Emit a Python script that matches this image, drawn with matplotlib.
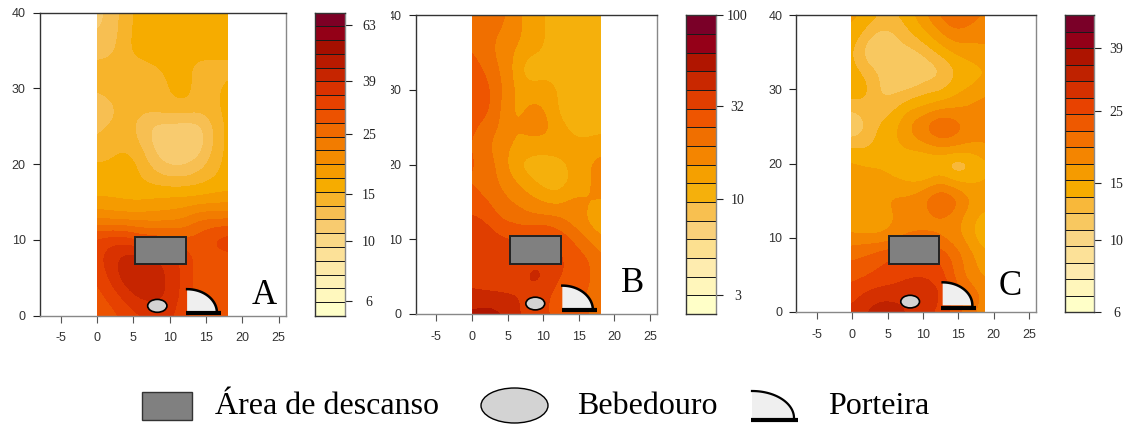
import matplotlib
matplotlib.use('Agg')
import matplotlib.pyplot as plt
import numpy as np
from matplotlib.colors import ListedColormap, BoundaryNorm
from matplotlib.patches import Rectangle, Ellipse, Polygon
from matplotlib.ticker import NullLocator
from matplotlib.transforms import Bbox

plt.rcParams['axes.unicode_minus'] = False

W, H = 1131, 425

grid_x = [0, 2, 4, 6, 8, 10, 12, 14, 16, 18]
grid_y = [40, 37.5, 35, 32.5, 30, 27.5, 25, 22.5, 20, 17.5, 15, 12.5, 10, 7.5, 5, 2.5, 0]

values_a = [
    [11.5, 12.5, 14.5, 16, 16, 16, 17, 16, 16, 16],
    [12, 12.5, 14.8, 16, 16, 16.5, 17.5, 17, 16, 16],
    [12.5, 13, 15, 16, 16, 16, 16, 16, 16, 16],
    [14.5, 14.5, 14.5, 14.5, 15, 15.5, 15.8, 14.5, 14.5, 14.5],
    [13.8, 14.5, 14.5, 14.8, 14.8, 15.2, 16.2, 14.5, 14.5, 16],
    [12.5, 13, 14.5, 14, 14.5, 15, 15, 14.5, 14.8, 16],
    [13, 13.8, 14, 13, 11.3, 11.3, 11, 11.3, 13.5, 16],
    [14, 14.5, 14.8, 13.5, 11.5, 11, 11, 11, 13.5, 16],
    [15.5, 15.5, 16.5, 15, 12.5, 11.5, 11.5, 12.5, 14.5, 16],
    [15.8, 15.8, 15.8, 15.5, 15, 14.5, 14.5, 15, 15.5, 16],
    [17.5, 17.5, 17, 17, 17.5, 18, 18, 18, 18.5, 18.5],
    [22, 21, 21, 21, 21, 21, 22, 25, 25, 25],
    [32, 34, 33, 30, 29, 29, 28, 29, 32, 34],
    [33, 38, 42, 42, 40, 37, 34, 29, 29, 29],
    [31, 36, 42, 46, 42, 38, 33, 29, 29, 29],
    [29, 32, 36, 40, 41, 38, 33, 29, 29, 29],
    [29, 29, 32, 34, 35, 36, 31, 29, 29, 29],
]
values_b = [
    [20, 24, 21, 17, 13.5, 12.5, 10, 10, 11, 11],
    [23, 21, 19, 17, 14, 13, 9.6, 10.5, 11, 11],
    [25, 21, 18, 15, 13, 12, 10, 11, 11, 11],
    [28, 24, 19, 14.5, 9, 11, 11, 11, 11, 11],
    [29, 27, 20, 15, 14, 14, 12, 11, 11, 11],
    [29, 27, 19, 14, 16, 16, 12, 8.5, 10.5, 11],
    [26, 22, 19, 15, 17, 17, 14, 11.5, 11, 11],
    [25, 20, 17, 15, 14, 14, 14, 13, 13, 14],
    [26, 22, 18, 12, 10.5, 10, 11, 13, 15, 17],
    [24, 22, 19, 16, 13, 11, 10, 12.5, 14, 18],
    [28, 25, 21, 19, 17, 15, 14, 17, 16, 15],
    [33, 31, 24, 23, 21, 21, 21, 17, 15, 12],
    [38, 36, 33, 31, 32, 35, 29, 25, 19, 16],
    [38, 38, 35, 36, 37, 36, 34, 28, 26, 20],
    [36, 33, 31, 32, 42, 42, 31, 30, 26, 22],
    [41, 41, 41, 40, 37, 33, 27, 26, 24, 22],
    [53, 56, 52, 42, 35, 32, 30, 28, 25, 23],
]
values_c = [
    [16, 15, 13.5, 13.5, 15, 17, 20, 22, 21, 19],
    [15, 13, 11.5, 12, 13.5, 15, 17, 19, 18, 17.5],
    [14, 11.2, 9.8, 11.5, 11.5, 12.5, 14, 15.5, 16.5, 17],
    [14.5, 13, 12, 11, 10, 11, 11.5, 13.5, 14, 15],
    [15, 14.5, 11.5, 11.5, 12, 13, 13, 14.5, 15.5, 16.5],
    [12.5, 13, 12.5, 13.5, 15, 15.5, 16.5, 17, 17.5, 18.5],
    [10, 12, 14, 15, 18, 20, 23, 21, 19, 19],
    [13.5, 13, 14.5, 15, 16, 17, 18, 18, 17, 17],
    [15.5, 15, 15, 14.5, 13.5, 12.8, 13.3, 11.5, 12.8, 15],
    [17, 16.5, 16, 15.5, 15, 15, 17, 15, 15, 15.5],
    [16, 16.5, 17, 18, 18, 20, 23, 21, 17.5, 16],
    [16, 14.5, 16, 17, 18, 18, 19, 18, 15.5, 14.5],
    [17.5, 18, 17, 18.5, 20, 20, 19, 18, 16, 13.5],
    [21.5, 22, 24, 25, 25, 25, 24, 21, 18, 16],
    [23, 24, 25, 26, 27, 27.5, 26, 21, 18, 16.5],
    [26, 28, 29, 29, 30, 29, 28.5, 23, 21, 19],
    [28, 31, 34, 33, 30, 28, 27, 23, 20, 18],
]

xticks = [-5, 0, 5, 10, 15, 20, 25]
yticks = [0, 10, 20, 30, 40]
ticks_a = [6, 10, 15, 25, 39, 63]
ticks_b = [3, 10, 32, 100]
ticks_c = [6, 10, 15, 25, 39]
legend_labels = ['Área de descanso', 'Bebedouro', 'Porteira']

colors_a = ['#FFFFC8', '#FFF8BE', '#FEF1B5', '#FDE9A8', '#FCE198', '#FAD886', '#F8CB6F', '#F7BF52',
            '#F7B42B', '#F6AC00', '#F59B00', '#F48B00', '#F27C00', '#F06A00', '#EC5200', '#E64100',
            '#D93200', '#C62500', '#B81A00', '#A50F00', '#930017', '#7D0025']
colors_b = ['#FFFFC8', '#FFF6BB', '#FEECAF', '#FCE090', '#F9D07A', '#F8C050', '#F5B00C', '#F5A000',
            '#F48500', '#F06F00', '#EE5500', '#E03E00', '#C92800', '#B01500', '#950018', '#7A0028']
colors_c = ['#FFFFC8', '#FFF6BB', '#FEEAAE', '#FCE198', '#F9D685', '#F8C860', '#F8B83A', '#F6AC00',
            '#F59B00', '#F48500', '#F27000', '#EE5900', '#E84200', '#D53000', '#BF2200', '#AD1400',
            '#930018', '#7A0028']


def px_axes(left, right, top, bottom):
    return fig.add_axes([left / W, 1 - bottom / H, (right - left) / W, (bottom - top) / H])


def gate_outline(x0, x1, y0, y1):
    t = np.linspace(0, np.pi / 2, 40)
    return x0 + (x1 - x0) * np.cos(t), y0 + (y1 - y0) * np.sin(t)


fig = plt.figure(figsize=(W / 100, H / 100), dpi=100)

panels = [
    dict(name='A', values=values_a, colors=colors_a, box=(39.5, 286, 12.5, 315.7), xlim=(-7.9, 26), xshift=0, xscale=1.0,
         low=5.3, high=70, bar=(315.3, 345.3, 12.5, 316), ticks=ticks_a, pad=12,
         rest=(5.2, 6.8, 7.0, 3.6), trough=(8.3, 1.3), gate=(12.4, 16.5, 0.4, 3.5), bar_y=0.3,
         base=(12.2, 17.1), letter=(23, 2.6)),
    dict(name='B', values=values_b, colors=colors_b, box=(415.7, 657, 15.3, 314), xlim=(-7.9, 26), xshift=0, xscale=1.0,
         low=2.37, high=100, bar=(686.3, 716, 15.3, 314), ticks=ticks_b, pad=10.5,
         rest=(5.4, 6.7, 7.1, 3.7), trough=(8.9, 1.4), gate=(12.7, 17.0, 0.5, 3.8), bar_y=0.5,
         base=(12.6, 17.6), letter=(22.5, 4.1)),
    dict(name='C', values=values_c, colors=colors_c, box=(796.3, 1036, 15.3, 312), xlim=(-7.9, 26), xshift=-0.2, xscale=1.045,
         low=6, high=49.3, bar=(1064.7, 1093.7, 15.3, 312), ticks=ticks_c, pad=11.3,
         rest=(5.2, 6.5, 7.1, 3.7), trough=(8.2, 1.4), gate=(12.8, 17.0, 0.9, 4.0), bar_y=0.5,
         base=(12.6, 17.5), letter=(22.4, 3.4)),
]

for p in panels:
    ax = px_axes(*p['box'])
    bands = len(p['colors'])
    levels = np.geomspace(p['low'], p['high'], bands + 1)
    band_cmap = ListedColormap(p['colors'])
    band_norm = BoundaryNorm(levels, bands)
    s = p['xscale']
    d = p['xshift']
    # cells are centred on the grid points, then the picture is cut back to the field
    im = ax.imshow(p['values'], cmap=band_cmap, norm=band_norm, interpolation='bicubic',
                   interpolation_stage='data', aspect='auto',
                   extent=(d - 1 * s, d + 19 * s, -1.25, 41.25))
    im.set_clip_path(Rectangle((d, 0), 18 * s, 40, transform=ax.transData))

    ax.add_patch(Rectangle(p['rest'][:2], p['rest'][2], p['rest'][3], fc='#808080', ec='#222222', lw=1.4, zorder=4))
    ax.add_patch(Ellipse(p['trough'], 2.65, 1.7, fc='#D3D3D3', ec='black', lw=1.2, zorder=4))
    x0, x1, y0, y1 = p['gate']
    gx_line, gy_line = gate_outline(x0, x1, y0, y1)
    ax.add_patch(Polygon(np.column_stack([np.r_[x0, gx_line], np.r_[y0, gy_line]]), fc='#EFEFEF', ec='none', zorder=4))
    ax.plot(gx_line, gy_line, color='black', lw=1.8, zorder=5)
    ax.plot(p['base'], [p['bar_y'], p['bar_y']], color='black', lw=3, solid_capstyle='butt', zorder=5)
    ax.text(p['letter'][0], p['letter'][1], p['name'], family='Liberation Serif', fontsize=25,
            ha='center', va='center', color='black', zorder=6)

    ax.set_xlim(*p['xlim'])
    ax.set_ylim(0, 40)
    ax.set_xticks(xticks)
    ax.set_yticks(yticks)
    ax.tick_params(axis='x', length=5, width=0.8, pad=7, labelsize=9, labelcolor='#333333', color='#555555')
    ax.tick_params(axis='y', length=5, width=0.8, pad=5, labelsize=9, labelcolor='#333333', color='#222222')
    for label in ax.get_xticklabels() + ax.get_yticklabels():
        label.set_family('Liberation Sans')
    for side, col in [('left', '#333333'), ('top', '#333333'), ('bottom', '#888888'), ('right', '#888888')]:
        ax.spines[side].set_color(col)
        ax.spines[side].set_linewidth(1.0)
    # labels of the middle panel are cut off by the panel to its left
    if p['name'] == 'B':
        for label in ax.get_yticklabels():
            label.set_clip_box(Bbox([[391, 0], [W, H]]))
            label.set_clip_on(True)

    cax = px_axes(*p['bar'])
    cax.pcolormesh([0, 1], levels, np.arange(bands).reshape(-1, 1), cmap=band_cmap,
                   edgecolors='#1a1a1a', linewidth=0.6)
    cax.set_yscale('log')
    cax.set_ylim(p['low'], p['high'])
    cax.set_xlim(0, 1)
    cax.set_xticks([])
    cax.yaxis.tick_right()
    cax.yaxis.set_minor_locator(NullLocator())
    cax.set_yticks(p['ticks'])
    cax.set_yticklabels([str(t) for t in p['ticks']], family='Liberation Serif', fontsize=10, ha='center')
    cax.tick_params(axis='y', length=5, width=0.8, pad=p['pad'], color='#222222', labelcolor='#222222')
    for side, col in [('left', '#333333'), ('top', '#333333'), ('bottom', '#333333'), ('right', '#888888')]:
        cax.spines[side].set_color(col)
        cax.spines[side].set_linewidth(1.0)

# legend along the bottom, laid out in pixels
leg = fig.add_axes([0, 0, 1, 1], facecolor='none')
leg.set_xlim(0, W)
leg.set_ylim(H, 0)
leg.axis('off')
leg.add_patch(Rectangle((142, 392), 50, 28, fc='#808080', ec='#333333', lw=1))
leg.add_patch(Ellipse((514.5, 405.5), 67, 35, fc='#D3D3D3', ec='black', lw=1))
gx_line, gy_line = gate_outline(752, 794, 418, 391)
leg.add_patch(Polygon(np.column_stack([np.r_[752, gx_line], np.r_[418, gy_line]]), fc='#EFEFEF', ec='none'))
leg.plot(gx_line, gy_line, color='black', lw=1.6)
leg.plot([751, 798], [419.5, 419.5], color='black', lw=3, solid_capstyle='butt')
for x, label in zip([215, 577, 828], legend_labels):
    leg.text(x, 407, label, family='Liberation Serif', fontsize=23, ha='left', va='center', color='black')

fig.savefig('out.png', dpi=100)
